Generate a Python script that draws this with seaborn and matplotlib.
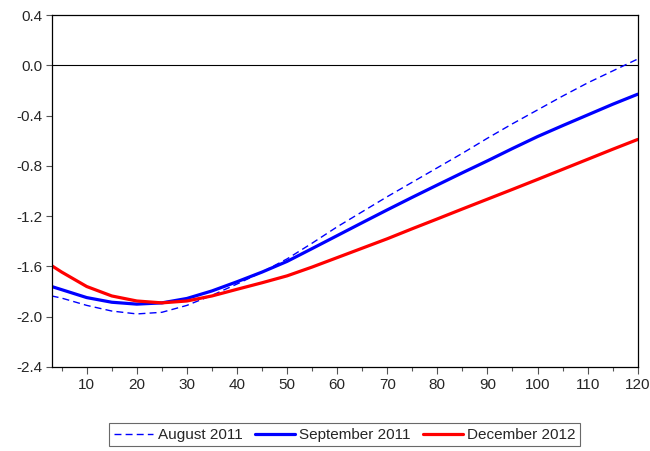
import matplotlib
matplotlib.use("Agg")
import matplotlib.pyplot as plt
import seaborn as sns
import pandas as pd
from matplotlib.ticker import MultipleLocator

maturity = [3, 5, 10, 15, 20, 25, 30, 35, 40, 45, 50, 55, 60, 65, 70, 75, 80,
            85, 90, 95, 100, 105, 110, 115, 120]

aug_2011 = [-1.835, -1.852, -1.91, -1.955, -1.978, -1.965, -1.91, -1.83, -1.74,
            -1.645, -1.54, -1.415, -1.285, -1.165, -1.045, -0.93, -0.815, -0.70,
            -0.58, -0.465, -0.355, -0.245, -0.14, -0.045, 0.05]

sep_2011 = [-1.76, -1.785, -1.848, -1.885, -1.90, -1.89, -1.855, -1.795, -1.722,
            -1.645, -1.56, -1.458, -1.355, -1.252, -1.15, -1.05, -0.952, -0.855,
            -0.76, -0.662, -0.567, -0.48, -0.395, -0.31, -0.23]

dec_2012 = [-1.594, -1.645, -1.76, -1.835, -1.875, -1.89, -1.875, -1.835, -1.782,
            -1.73, -1.675, -1.605, -1.53, -1.455, -1.38, -1.30, -1.222, -1.143,
            -1.065, -0.987, -0.908, -0.828, -0.748, -0.668, -0.59]

labels = ["August 2011", "September 2011", "December 2012"]
x_ticks = [10, 20, 30, 40, 50, 60, 70, 80, 90, 100, 110, 120]
y_ticks = [0.4, 0.0, -0.4, -0.8, -1.2, -1.6, -2.0, -2.4]

sns.set_style("white")
plt.rcParams["font.family"] = ["Liberation Sans", "DejaVu Sans"]

fig = plt.figure(figsize=(6.5, 4.51), dpi=100)
ax = fig.add_axes([0.0795, 0.1863, 0.9016, 0.7804])

sns.lineplot(x=maturity, y=aug_2011, ax=ax, color="#0000ff", lw=1.0,
             linestyle=(0, (5, 3)), label=labels[0])
sns.lineplot(x=maturity, y=sep_2011, ax=ax, color="#0000ff", lw=2.3,
             label=labels[1])
sns.lineplot(x=maturity, y=dec_2012, ax=ax, color="#ff0000", lw=2.3,
             label=labels[2])

ax.axhline(0, color="black", lw=0.8, zorder=1)

ax.set_xlim(3, 120)
ax.set_ylim(-2.4, 0.4)
ax.set_xticks(x_ticks)
ax.set_xticklabels([str(t) for t in x_ticks])
ax.xaxis.set_minor_locator(MultipleLocator(5))
ax.set_yticks(y_ticks)
ax.set_yticklabels([f"{t:.1f}" for t in y_ticks])

for s in ax.spines.values():
    s.set_visible(True)
    s.set_color("black")
    s.set_linewidth(0.9)

ax.tick_params(axis="x", which="major", direction="out", length=5, width=0.8,
               color="#555555", labelsize=11, pad=3, bottom=True)
ax.tick_params(axis="x", which="minor", direction="out", length=3, width=0.8,
               color="#555555", bottom=True)
ax.tick_params(axis="y", which="major", direction="out", length=4, width=0.8,
               color="#555555", labelsize=11, pad=2.5, left=True)

leg = ax.legend(loc="upper center", bbox_to_anchor=(0.5, -0.16), ncol=3,
                frameon=True, fancybox=False, fontsize=11, handlelength=2.6,
                columnspacing=0.8, handletextpad=0.3, borderpad=0.3,
                borderaxespad=0)
leg.get_frame().set_edgecolor("#444444")
leg.get_frame().set_linewidth(0.8)

ax.set_xlabel("")
ax.set_ylabel("")

fig.savefig("out.png", dpi=100)
